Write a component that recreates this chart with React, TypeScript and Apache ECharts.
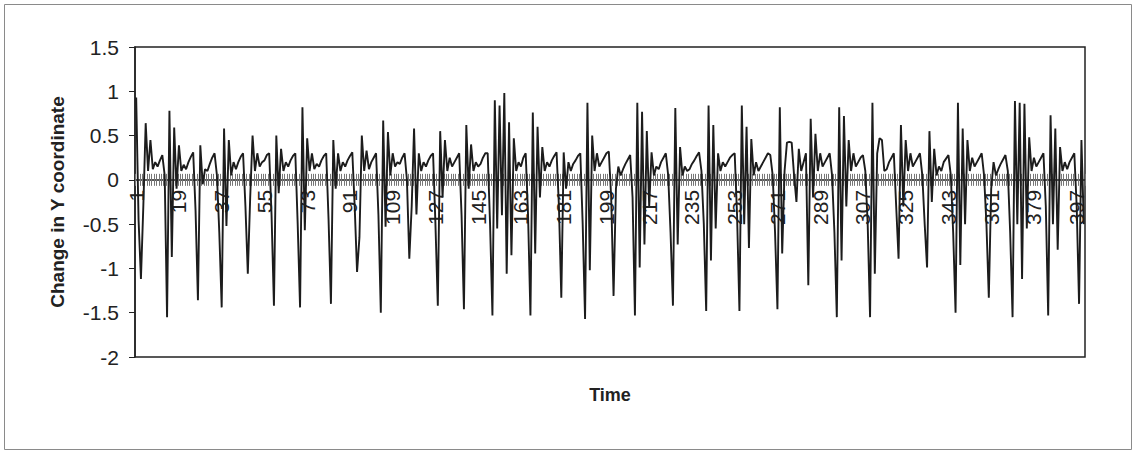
import React, { useEffect, useRef } from "react";
import * as echarts from "echarts";

// Change in Y coordinate, one value per time step
const yChange: number[] = [
  0.93, -0.45, -1.12, -0.3, 0.64, 0.1, 0.45, 0.12, 0.2, 0.15, 0.22, 0.28, 0.05,
  -1.55, 0.78, -0.87, 0.59, -0.1, 0.39, 0.1, 0.17, 0.12, 0.2, 0.26, 0.31, -0.35,
  -1.36, 0.39, -0.05, 0.12, 0.1, 0.18, 0.25, 0.3, 0.05, -0.6,
  -1.44, 0.58, -0.52, 0.45, 0.05, 0.2, 0.12, 0.2, 0.26, 0.3, -0.3,
  -1.06, -0.2, 0.5, 0.1, 0.3, 0.15, 0.2, 0.22, 0.28, 0.3, -0.4,
  -1.42, 0.5, -0.15, 0.35, 0.1, 0.2, 0.15, 0.22, 0.27, 0.3, -0.5,
  -1.44, 0.82, -0.57, 0.47, 0.1, 0.3, 0.12, 0.18, 0.15, 0.22, 0.27, 0.3, -0.45,
  -1.4, 0.45, -0.1, 0.3, 0.1, 0.2, 0.15, 0.22, 0.27, 0.31, -0.3,
  -1.04, -0.65, 0.5, 0.1, 0.33, 0.12, 0.2, 0.25, 0.3, -0.4,
  -1.5, 0.67, -0.53, 0.54, 0.05, 0.3, 0.15, 0.2, 0.18, 0.25, 0.3, 0.0,
  -0.89, -0.3, 0.58, -0.39, 0.3, 0.1, 0.2, 0.15, 0.22, 0.27, 0.3, -0.5,
  -1.42, 0.55, -0.2, 0.45, 0.1, 0.25, 0.15, 0.2, 0.25, 0.3, -0.4,
  -1.46, 0.62, -0.1, 0.4, 0.1, 0.2, 0.15, 0.18, 0.25, 0.3, 0.3, -0.5,
  -1.53, 0.9, -0.55, 0.84, -0.4, 0.98, -1.06, 0.65, -0.85, 0.47, 0.1, 0.2, 0.15, 0.25, 0.3, -0.4,
  -1.53, 0.76, -0.83, 0.6, -0.2, 0.37, 0.1, 0.2, 0.15, 0.22, 0.27, 0.31, -0.3,
  -1.33, 0.31, -0.1, 0.2, 0.1, 0.18, 0.22, 0.27, 0.3, -0.5,
  -1.57, 0.87, -1.02, 0.5, 0.1, 0.3, 0.15, 0.2, 0.25, 0.3, 0.32, -0.2,
  -1.31, -0.1, 0.15, 0.05, 0.12, 0.18, 0.23, 0.28, -0.2,
  -1.53, 0.87, -0.99, 0.77, -0.73, 0.55, -0.3, 0.31, 0.05, 0.15, 0.12, 0.2, 0.25, 0.3, 0.05, -0.6,
  -1.42, 0.81, -0.73, 0.37, 0.05, 0.15, 0.1, 0.12, 0.18, 0.22, 0.27, 0.31, 0.1, -0.5,
  -1.48, 0.84, -0.91, 0.62, -0.55, 0.3, 0.1, 0.2, 0.15, 0.2, 0.25, 0.28, 0.3, -0.4,
  -1.48, 0.84, -0.5, 0.6, -0.77, 0.46, 0.05, 0.2, 0.1, 0.15, 0.2, 0.25, 0.3, 0.28, 0.05, -0.6,
  -1.46, 0.82, -0.83, 0.1, 0.42, 0.43, 0.42, 0.05, -0.25, 0.35, 0.1, 0.2, 0.3,
  -1.19, 0.69, -0.2, 0.52, 0.1, 0.3, 0.15, 0.2, 0.25, 0.3, 0.05, -0.6,
  -1.55, 0.82, -0.91, 0.72, -0.3, 0.45, 0.1, 0.3, 0.15, 0.2, 0.25, 0.28, 0.1, -0.5,
  -1.55, 0.87, -1.06, 0.3, 0.47, 0.45, 0.1, 0.12, 0.2, 0.25, 0.3, -0.3,
  -0.89, 0.62, -0.3, 0.45, 0.1, 0.3, 0.15, 0.2, 0.25, 0.3, 0.05, -0.5,
  -0.99, 0.55, -0.25, 0.35, 0.05, 0.15, 0.1, 0.2, 0.24, 0.28, 0.05, -0.6,
  -1.5, 0.87, -0.96, 0.58, -0.5, 0.45, 0.1, 0.25, 0.15, 0.2, 0.25, 0.3, 0.05, -0.5,
  -1.33, -0.1, 0.2, 0.05, 0.12, 0.18, 0.23, 0.28, 0.1, -0.6,
  -1.55, 0.89, -0.5, 0.87, -1.12, 0.86, -0.55, 0.48, 0.1, 0.25, 0.15, 0.2, 0.25, 0.3, -0.3,
  -1.53, 0.73, -0.5, 0.58, -0.79, 0.37, 0.1, 0.2, 0.12, 0.2, 0.25, 0.3, -0.3,
  -1.4, 0.45, -0.5,
];

// Time steps 1..N (category labels)
const timeSteps: string[] = yChange.map((_, i) => String(i + 1));
const labelEvery = 18; // labels 1, 19, 37, ... 397

const yMin = -2;
const yMax = 1.5;
const yStep = 0.5;

const FONT = "'Liberation Sans', Arial, sans-serif";

// grid geometry
const GRID_TOP = 47;
const GRID_BOTTOM = 96;
const CHART_H = 453;
const plotH = CHART_H - GRID_TOP - GRID_BOTTOM;
// distance from the bottom edge of the plot up to the value 0 line
const zeroOffset = -plotH * (0 - yMin) / (yMax - yMin);

export default function App() {
  const ref = useRef<HTMLDivElement>(null);

  useEffect(() => {
    document.body.style.margin = "0";
    if (!ref.current) return;
    const chart = echarts.init(ref.current, undefined, { renderer: "svg" });
    const baseX = {
      type: "category" as const,
      data: timeSteps,
      boundaryGap: true,
      position: "bottom" as const,
      offset: zeroOffset,
    };
    chart.setOption({
      animation: false,
      backgroundColor: "#ffffff",
      grid: {
        left: 135,
        right: 52,
        top: GRID_TOP,
        bottom: GRID_BOTTOM,
        show: true,
        borderColor: "#222",
        borderWidth: 1.5,
        backgroundColor: "transparent",
      },
      xAxis: [
        {
          ...baseX,
          axisLine: {
            onZero: false,
            lineStyle: { color: "#222", width: 1.5 },
          },
          axisTick: {
            show: true,
            interval: 0,
            length: 6,
            lineStyle: { color: "#777", width: 1 },
          },
          axisLabel: {
            interval: labelEvery - 1,
            rotate: 90,
            fontSize: 21,
            fontFamily: FONT,
            color: "#222",
            margin: 10,
          },
          splitLine: { show: false },
        },
        {
          ...baseX,
          axisLine: { show: false, onZero: false },
          axisTick: {
            show: true,
            inside: true,
            interval: 0,
            length: 6,
            lineStyle: { color: "#777", width: 1 },
          },
          axisLabel: { show: false },
          splitLine: { show: false },
        },
      ],
      yAxis: {
        type: "value",
        min: yMin,
        max: yMax,
        interval: yStep,
        name: "Change in Y coordinate",
        nameLocation: "middle",
        nameGap: 68,
        nameTextStyle: {
          fontSize: 19,
          fontWeight: "bold",
          fontFamily: FONT,
          color: "#222",
        },
        axisLine: { show: true, lineStyle: { color: "#222", width: 1.5 } },
        axisTick: { show: true, length: 6, lineStyle: { color: "#222" } },
        axisLabel: {
          fontSize: 21,
          fontFamily: FONT,
          color: "#222",
          margin: 16,
        },
        splitLine: { show: false },
      },
      graphic: [
        {
          type: "rect",
          shape: { x: 4.5, y: 4.5, width: 1127, height: 445 },
          style: { fill: "none", stroke: "#8a8a8a", lineWidth: 1 },
          silent: true,
        },
        {
          type: "text",
          x: 610,
          y: 395,
          style: {
            text: "Time",
            fontSize: 18,
            fontWeight: "bold",
            fontFamily: FONT,
            fill: "#222",
            textAlign: "center",
            textVerticalAlign: "middle",
          },
        },
      ],
      series: [
        {
          type: "line",
          xAxisIndex: 0,
          data: yChange,
          symbol: "none",
          lineStyle: { color: "#1c1c1c", width: 1.9 },
        },
      ],
    });
    return () => chart.dispose();
  }, []);

  return <div ref={ref} style={{ width: 1137, height: 453 }} />;
}
